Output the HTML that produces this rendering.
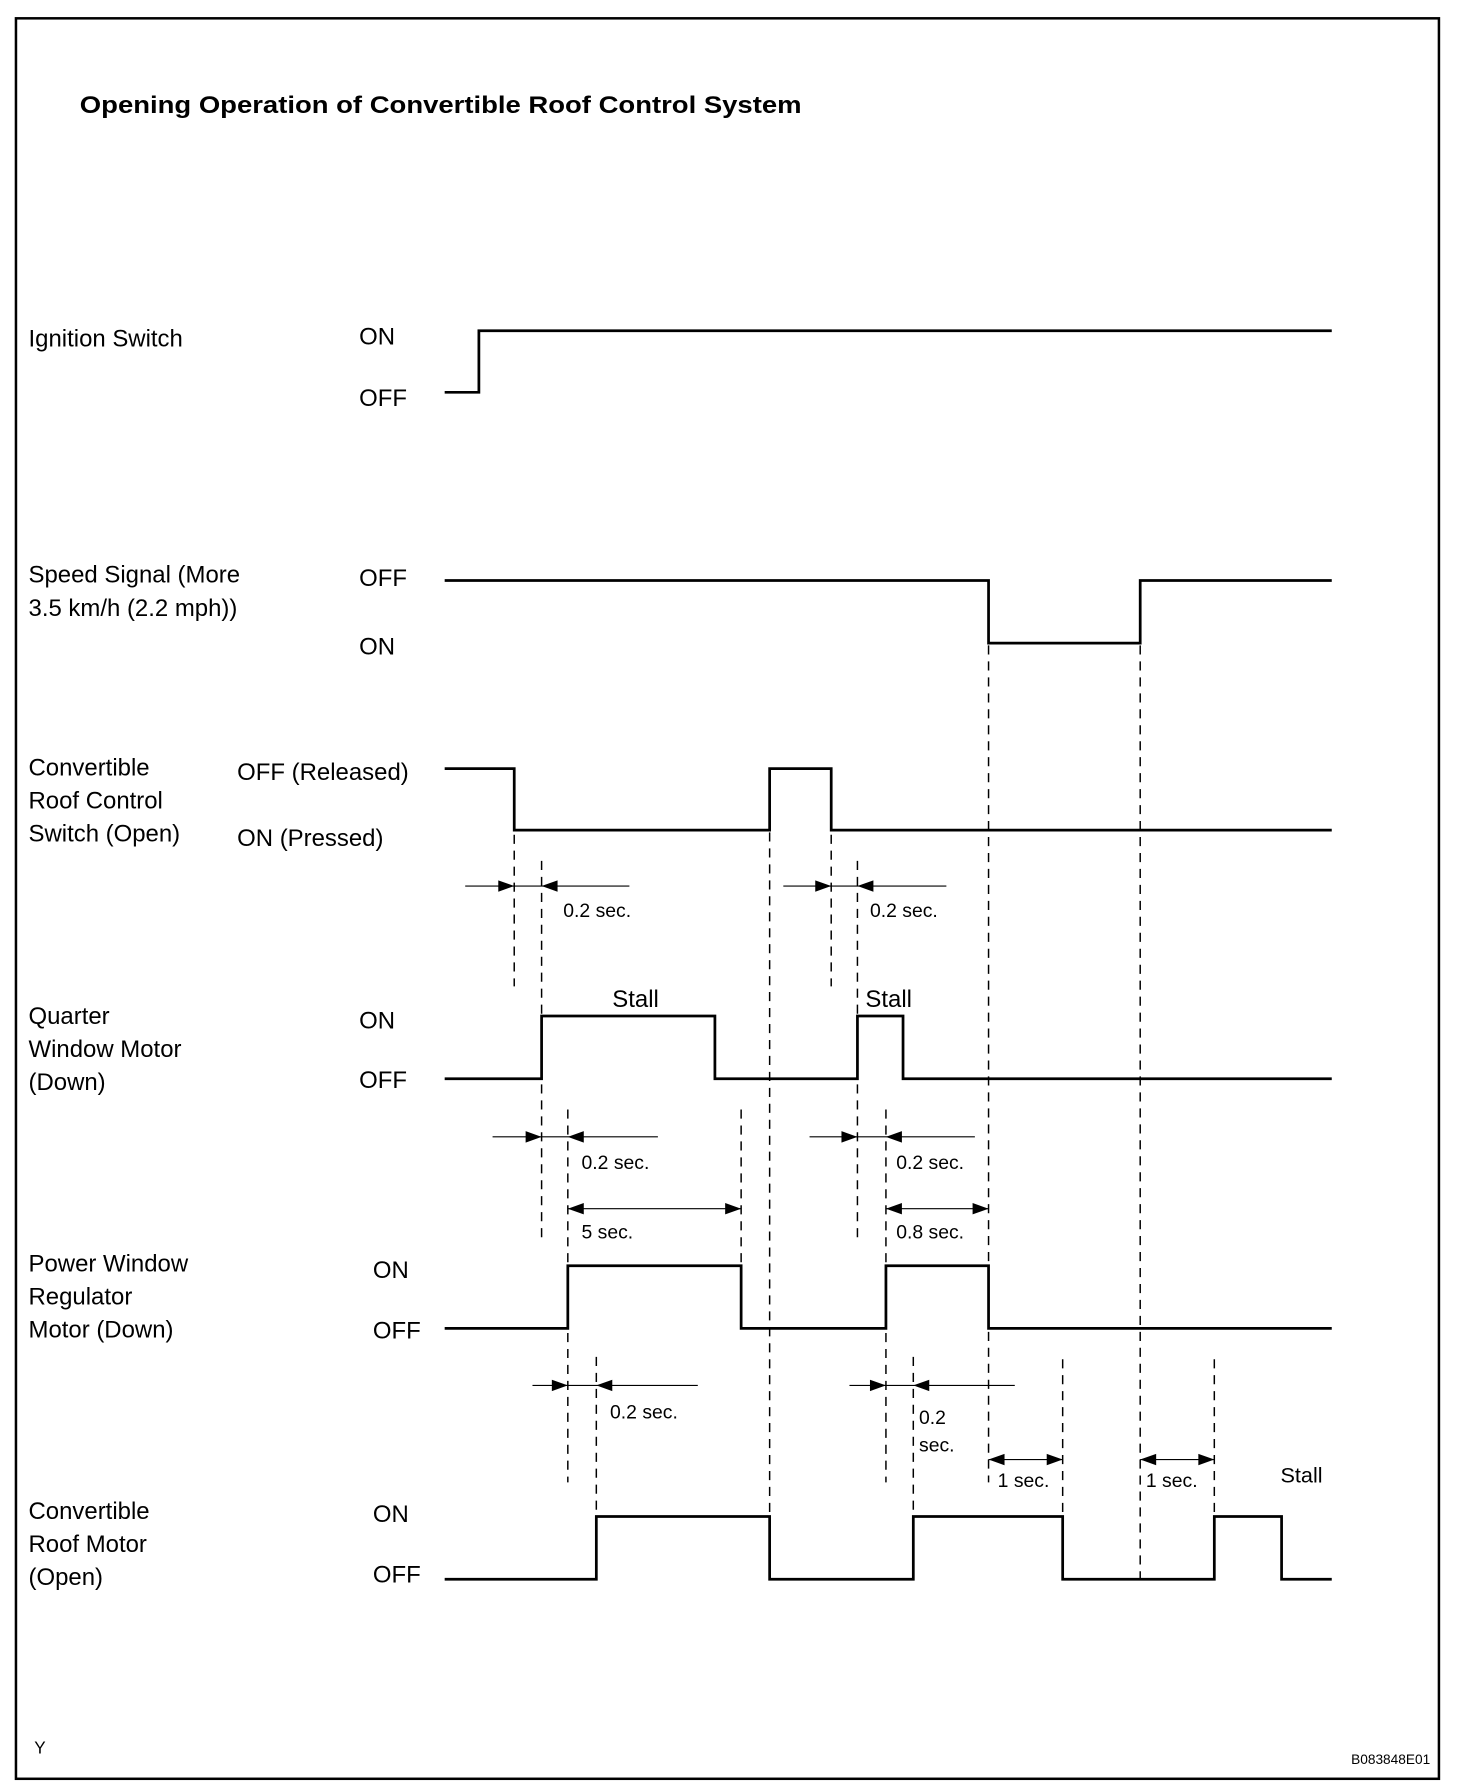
<!DOCTYPE html>
<html><head><meta charset="utf-8"><style>
html,body{margin:0;padding:0;background:#fff}
svg{display:block}
text{font-family:"Liberation Sans",Arial,sans-serif;fill:#000}
</style></head><body>
<svg width="1472" height="1788" viewBox="0 0 1291 1568" xmlns="http://www.w3.org/2000/svg">
<rect x="14" y="16" width="1248" height="1544" fill="none" stroke="#000" stroke-width="2.2"/>
<text x="70" y="99" font-size="21" font-weight="bold" textLength="633" lengthAdjust="spacingAndGlyphs">Opening Operation of Convertible Roof Control System</text>

<g font-size="21">
<text x="25" y="304">Ignition Switch</text>
<text x="315" y="302">ON</text><text x="315" y="356">OFF</text>
<text x="25" y="511">Speed Signal  (More</text>
<text x="25" y="540">3.5 km/h (2.2 mph))</text>
<text x="315" y="514">OFF</text><text x="315" y="574">ON</text>
<text x="25" y="680">Convertible</text><text x="25" y="709">Roof Control</text><text x="25" y="738">Switch (Open)</text>
<text x="208" y="684">OFF (Released)</text><text x="208" y="742">ON (Pressed)</text>
<text x="25" y="898">Quarter</text><text x="25" y="927">Window Motor</text><text x="25" y="956">(Down)</text>
<text x="315" y="902">ON</text><text x="315" y="954">OFF</text>
<text x="537" y="883">Stall</text><text x="759" y="883">Stall</text>
<text x="25" y="1115">Power Window</text><text x="25" y="1144">Regulator</text><text x="25" y="1173">Motor (Down)</text>
<text x="327" y="1121">ON</text><text x="327" y="1174">OFF</text>
<text x="25" y="1332">Convertible</text><text x="25" y="1361">Roof Motor</text><text x="25" y="1390">(Open)</text>
<text x="327" y="1335">ON</text><text x="327" y="1388">OFF</text>
</g>
<g font-size="17">
<text x="494" y="804">0.2 sec.</text><text x="763" y="804">0.2 sec.</text>
<text x="510" y="1025">0.2 sec.</text><text x="786" y="1025">0.2 sec.</text>
<text x="510" y="1086">5 sec.</text><text x="786" y="1086">0.8 sec.</text>
<text x="535" y="1244">0.2 sec.</text><text x="806" y="1249">0.2</text><text x="806" y="1273">sec.</text>
<text x="875" y="1304">1 sec.</text><text x="1005" y="1304">1 sec.</text>
<text x="1123" y="1300" font-size="19">Stall</text>
</g>
<text x="30" y="1538" font-size="15">Y</text>
<text x="1185" y="1547" font-size="12">B083848E01</text>

<g fill="none" stroke="#000" stroke-width="2.4">
<polyline points="390,344 420,344 420,290 1168,290"/>
<polyline points="390,509 867,509 867,564 1000,564 1000,509 1168,509"/>
<polyline points="390,674 451,674 451,728 675,728 675,674 729,674 729,728 1168,728"/>
<polyline points="390,946 475,946 475,891 627,891 627,946 752,946 752,891 792,891 792,946 1168,946"/>
<polyline points="390,1165 498,1165 498,1110 650,1110 650,1165 777,1165 777,1110 867,1110 867,1165 1168,1165"/>
<polyline points="390,1385 523,1385 523,1330 675,1330 675,1385 801,1385 801,1330 932,1330 932,1385 1065,1385 1065,1330 1124,1330 1124,1385 1168,1385"/>
</g>

<g stroke="#000" stroke-width="1.3" stroke-dasharray="8,6">
<line x1="451" y1="732" x2="451" y2="865"/>
<line x1="475" y1="755" x2="475" y2="1085"/>
<line x1="675" y1="730" x2="675" y2="1385"/>
<line x1="729" y1="732" x2="729" y2="865"/>
<line x1="752" y1="755" x2="752" y2="1085"/>
<line x1="867" y1="566" x2="867" y2="1300"/>
<line x1="1000" y1="566" x2="1000" y2="1385"/>
<line x1="498" y1="973" x2="498" y2="1300"/>
<line x1="650" y1="973" x2="650" y2="1165"/>
<line x1="777" y1="973" x2="777" y2="1300"/>
<line x1="523" y1="1190" x2="523" y2="1385"/>
<line x1="801" y1="1190" x2="801" y2="1385"/>
<line x1="932" y1="1192" x2="932" y2="1385"/>
<line x1="1065" y1="1192" x2="1065" y2="1330"/>
</g>

<g stroke="#000" stroke-width="1">
<line x1="408" y1="777" x2="552" y2="777"/>
<line x1="687" y1="777" x2="830" y2="777"/>
<line x1="432" y1="997" x2="577" y2="997"/>
<line x1="710" y1="997" x2="855" y2="997"/>
<line x1="498" y1="1060" x2="650" y2="1060"/>
<line x1="777" y1="1060" x2="867" y2="1060"/>
<line x1="467" y1="1215" x2="612" y2="1215"/>
<line x1="745" y1="1215" x2="890" y2="1215"/>
<line x1="867" y1="1280" x2="932" y2="1280"/>
<line x1="1000" y1="1280" x2="1065" y2="1280"/>
</g>
<g fill="#000">
<polygon points="451,777 437,772 437,782"/>
<polygon points="729,777 715,772 715,782"/>
<polygon points="475,997 461,992 461,1002"/>
<polygon points="752,997 738,992 738,1002"/>
<polygon points="650,1060 636,1055 636,1065"/>
<polygon points="867,1060 853,1055 853,1065"/>
<polygon points="498,1215 484,1210 484,1220"/>
<polygon points="777,1215 763,1210 763,1220"/>
<polygon points="932,1280 918,1275 918,1285"/>
<polygon points="1065,1280 1051,1275 1051,1285"/>
<polygon points="475,777 489,772 489,782"/>
<polygon points="752,777 766,772 766,782"/>
<polygon points="498,997 512,992 512,1002"/>
<polygon points="777,997 791,992 791,1002"/>
<polygon points="498,1060 512,1055 512,1065"/>
<polygon points="777,1060 791,1055 791,1065"/>
<polygon points="523,1215 537,1210 537,1220"/>
<polygon points="801,1215 815,1210 815,1220"/>
<polygon points="867,1280 881,1275 881,1285"/>
<polygon points="1000,1280 1014,1275 1014,1285"/>
</g>
</svg>
</body></html>
